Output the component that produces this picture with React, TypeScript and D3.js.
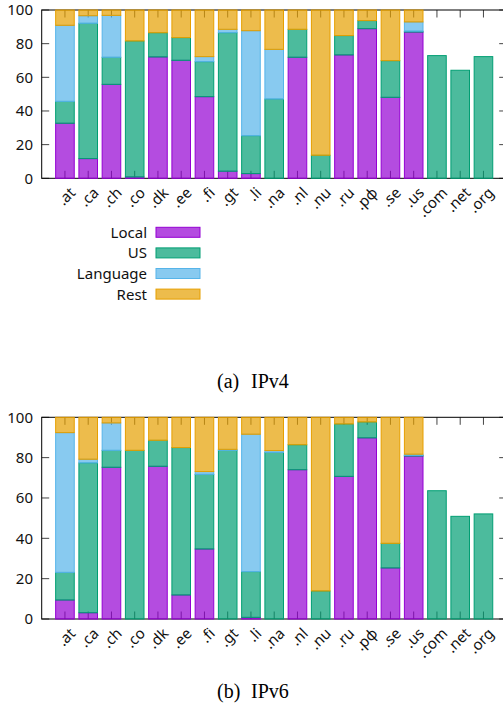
import React, { useEffect, useRef } from 'react';
import * as d3 from 'd3';

// top level domains, same order in both panels
const categories = ['.at', '.ca', '.ch', '.co', '.dk', '.ee', '.fi', '.gt', '.li', '.na', '.nl', '.nu', '.ru', '.рф', '.se', '.us', '.com', '.net', '.org'];

const seriesNames = ['Local', 'US', 'Language', 'Rest'];
const seriesColors = ['#9400d3', '#009e73', '#56b4e9', '#e69f00'];

// IPv4 shares (%)
const local4 = [32.7, 11.7, 55.8, 0.8, 72.1, 70.1, 48.5, 4.2, 2.8, 0, 71.9, 0, 73.3, 88.9, 48.1, 86.9, 0, 0, 0];
const us4 = [13.0, 80.4, 16.1, 80.8, 14.4, 13.5, 20.8, 82.3, 22.5, 47.1, 16.6, 13.7, 11.5, 4.8, 21.8, 0.5, 72.9, 64.2, 72.3];
const lang4 = [45.2, 4.5, 24.9, 0, 0, 0, 3.0, 2.0, 62.4, 29.5, 0, 0, 0, 0, 0, 5.5, 0, 0, 0];
const rest4 = [9.1, 3.4, 3.2, 18.4, 13.5, 16.4, 27.7, 11.5, 12.3, 23.4, 11.5, 86.3, 15.2, 6.3, 30.1, 7.1, 0, 0, 0];

// IPv6 shares (%)
const local6 = [9.4, 3.1, 75.2, 0, 75.7, 11.9, 34.7, 0, 0.8, 0, 74.0, 0, 70.7, 89.8, 25.3, 80.8, 0, 0, 0];
const us6 = [13.7, 74.3, 8.4, 83.6, 12.9, 73.1, 37.0, 83.6, 22.7, 82.6, 12.4, 13.9, 26.0, 7.9, 12.2, 0.3, 63.6, 50.9, 52.1];
const lang6 = [69.3, 1.8, 13.6, 0, 0, 0, 1.4, 0.5, 68.1, 0.9, 0, 0, 0, 0, 0, 0.6, 0, 0, 0];
const rest6 = [7.6, 20.8, 2.8, 16.4, 11.4, 15.0, 26.9, 15.9, 8.4, 16.5, 13.6, 86.1, 3.3, 2.3, 62.5, 18.3, 0, 0, 0];

const yTicks = [0, 20, 40, 60, 80, 100];

const FONT = '"Noto Sans", "DejaVu Sans", sans-serif';

type Panel = { top: number; bottom: number; series: number[][] };

const App: React.FC = () => {
  const svgRef = useRef<SVGSVGElement>(null);

  useEffect(() => {
    if (!svgRef.current) return;
    const svg = d3.select(svgRef.current);
    svg.selectAll('*').remove();

    const left = 41.7;
    const right = 506.7;
    const x = d3.scaleLinear().domain([-1, categories.length]).range([left, right]);
    const barW = (x(1) - x(0)) * 0.8;

    const drawPanel = (p: Panel) => {
      const y = d3.scaleLinear().domain([0, 100]).range([p.bottom, p.top]);
      const g = svg.append('g');

      // ticks (drawn first, bars are translucent on top)
      const tickLen = 7.5;
      categories.forEach((_, i) => {
        g.append('line').attr('x1', x(i)).attr('x2', x(i))
          .attr('y1', p.bottom).attr('y2', p.bottom - tickLen)
          .attr('stroke', '#444').attr('stroke-width', 1);
        g.append('line').attr('x1', x(i)).attr('x2', x(i))
          .attr('y1', p.top).attr('y2', p.top + tickLen)
          .attr('stroke', '#444').attr('stroke-width', 1);
      });
      yTicks.forEach(t => {
        g.append('line').attr('x1', left).attr('x2', left + tickLen)
          .attr('y1', y(t)).attr('y2', y(t)).attr('stroke', '#444');
        g.append('line').attr('x1', right).attr('x2', right - tickLen)
          .attr('y1', y(t)).attr('y2', y(t)).attr('stroke', '#444');
        g.append('text')
          .attr('x', 33).attr('y', y(t)).attr('dy', '0.36em')
          .attr('text-anchor', 'end')
          .attr('font-family', FONT).attr('font-size', 15)
          .attr('fill', '#111')
          .text(String(t));
      });

      // frame
      g.append('rect')
        .attr('x', left).attr('y', p.top)
        .attr('width', right - left).attr('height', p.bottom - p.top)
        .attr('fill', 'none').attr('stroke', '#000').attr('stroke-width', 1);

      // stacked bars
      categories.forEach((_, i) => {
        let base = 0;
        p.series.forEach((vals, s) => {
          const v = vals[i];
          if (v <= 0) return;
          g.append('rect')
            .attr('x', x(i) - barW / 2)
            .attr('y', y(base + v))
            .attr('width', barW)
            .attr('height', y(base) - y(base + v))
            .attr('fill', seriesColors[s])
            .attr('fill-opacity', 0.7)
            .attr('stroke', seriesColors[s])
            .attr('stroke-width', 1);
          base += v;
        });
      });

      // rotated category labels
      categories.forEach((c, i) => {
        g.append('text')
          .attr('transform', `translate(${x(i) + 4},${p.bottom + 8}) rotate(-45)`)
          .attr('text-anchor', 'end')
          .attr('dy', '0.7em')
          .attr('font-family', FONT).attr('font-size', 15)
          .attr('fill', '#111')
          .text(c);
      });
    };

    drawPanel({ top: 10, bottom: 178.3, series: [local4, us4, lang4, rest4] });
    drawPanel({ top: 417.3, bottom: 619, series: [local6, us6, lang6, rest6] });

    // legend
    seriesNames.forEach((name, i) => {
      const cy = 232.3 + i * 20.6;
      svg.append('text')
        .attr('x', 147).attr('y', cy).attr('dy', '0.36em')
        .attr('text-anchor', 'end')
        .attr('font-family', FONT).attr('font-size', 15)
        .attr('fill', '#111')
        .text(name);
      svg.append('rect')
        .attr('x', 156).attr('y', cy - 5)
        .attr('width', 44).attr('height', 10)
        .attr('fill', seriesColors[i]).attr('fill-opacity', 0.7)
        .attr('stroke', seriesColors[i]);
    });

    // sub-captions
    const captions = [{ tag: '(a)', label: 'IPv4', y: 388 }, { tag: '(b)', label: 'IPv6', y: 698 }];
    captions.forEach(c => {
      svg.append('text')
        .attr('x', 217).attr('y', c.y)
        .attr('font-family', '"Liberation Serif", "Times New Roman", serif')
        .attr('font-size', 20).attr('fill', '#000')
        .text(c.tag);
      svg.append('text')
        .attr('x', 251).attr('y', c.y)
        .attr('font-family', '"Liberation Serif", "Times New Roman", serif')
        .attr('font-size', 20).attr('fill', '#000')
        .text(c.label);
    });
  }, []);

  return (
    <svg ref={svgRef} width={503} height={713}
      style={{ position: 'absolute', left: 0, top: 0, background: '#fff', display: 'block' }} />
  );
};

export default App;
